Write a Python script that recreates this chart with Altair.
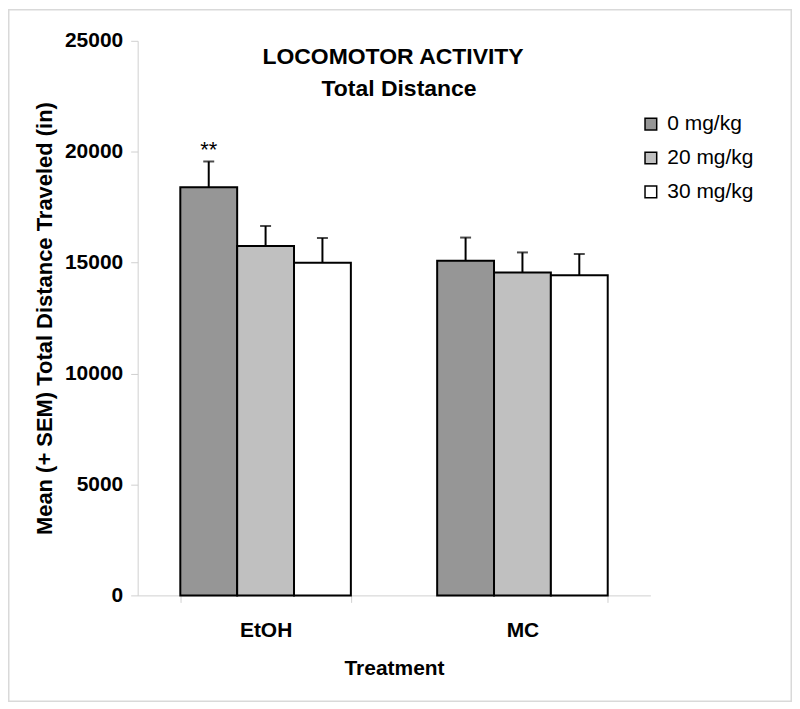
import altair as alt
import pandas as pd

treatments = ["EtOH", "MC"]
doses = ["0 mg/kg", "20 mg/kg", "30 mg/kg"]
means_etoh = [18400, 15750, 15000]
means_mc = [15080, 14560, 14430]
sem_etoh = [1160, 900, 1110]
sem_mc = [1050, 900, 960]
sig_etoh = ["**", "", ""]
sig_mc = ["", "", ""]
colors = ["#969696", "#c0c0c0", "#ffffff"]
y_ticks = [0, 5000, 10000, 15000, 20000, 25000]
title_lines = ["LOCOMOTOR ACTIVITY", "Total Distance"]

rows = []
for t, ms, ss, gs in [("EtOH", means_etoh, sem_etoh, sig_etoh), ("MC", means_mc, sem_mc, sig_mc)]:
    for d, m, s, g in zip(doses, ms, ss, gs):
        rows.append({"treatment": t, "dose": d, "mean": m, "upper": m + s, "sig": g})
df = pd.DataFrame(rows)

FONT = "Liberation Sans"
W, H = 514, 556
PAD = {"left": 130, "top": 32, "right": 142, "bottom": 107}

x_enc = alt.X(
    "treatment:N",
    sort=treatments,
    scale=alt.Scale(paddingInner=0.336, paddingOuter=0.166),
    axis=alt.Axis(
        title="Treatment",
        labelAngle=0,
        tickBand="extent",
        tickSize=7,
        labelBaseline="alphabetic",
        labelPadding=34,
        labelFontSize=21,
        titleFontSize=21,
        titleBaseline="alphabetic",
        titleY=79,
        titleX=W / 2,
    ),
)
xo_enc = alt.XOffset("dose:N", sort=doses, scale=alt.Scale(paddingInner=0, paddingOuter=0))
y_enc = alt.Y(
    "mean:Q",
    scale=alt.Scale(domain=[0, 25000], nice=False),
    axis=alt.Axis(
        title="Mean (+ SEM) Total Distance Traveled (in)",
        values=y_ticks,
        format="d",
        tickSize=7,
        labelPadding=8,
        labelFontSize=21,
        titleFontSize=22,
        titleBaseline="alphabetic",
        titleX=-86,
        titleY=H / 2,
        titleAngle=-90,
    ),
)

base = alt.Chart(df)

bars = base.mark_bar(stroke="black", strokeWidth=2).encode(
    x=x_enc,
    xOffset=xo_enc,
    y=y_enc,
    fill=alt.Fill(
        "dose:N",
        sort=doses,
        scale=alt.Scale(domain=doses, range=colors),
        legend=alt.Legend(
            title=None,
            orient="none",
            legendX=504,
            legendY=73,
            padding=0,
            symbolType="square",
            symbolSize=137,
            symbolStrokeColor="black",
            symbolStrokeWidth=1.5,
            symbolOffset=0,
            labelOffset=6,
            labelFontSize=21,
            labelFont=FONT,
            labelFontWeight="normal",
            labelColor="black",
            rowPadding=12,
        ),
    ),
)

err = base.mark_rule(color="black", strokeWidth=2).encode(
    x=x_enc, xOffset=xo_enc, y="mean:Q", y2="upper:Q"
)
caps = base.mark_tick(color="black", thickness=2, size=11).encode(
    x=x_enc, xOffset=xo_enc, y="upper:Q"
)
stars = base.mark_text(
    baseline="alphabetic", dy=-4, fontSize=22, font=FONT, color="black"
).encode(x=x_enc, xOffset=xo_enc, y="upper:Q", text="sig:N")

one = pd.DataFrame({"a": [0]})
frame = alt.Chart(one).mark_rect(fill=None, stroke="#d9d9d9", strokeWidth=1.5).encode(
    x=alt.value(-PAD["left"] + 0.75),
    x2=alt.value(W + PAD["right"] - 0.75),
    y=alt.value(-PAD["top"] + 0.75),
    y2=alt.value(H + PAD["bottom"] - 0.75),
)
t1 = alt.Chart(pd.DataFrame({"t": [title_lines[0]]})).mark_text(
    fontSize=23, fontWeight="bold", font=FONT, baseline="alphabetic", align="center", color="black"
).encode(x=alt.value(256), y=alt.value(23), text="t:N")
t2 = alt.Chart(pd.DataFrame({"t": [title_lines[1]]})).mark_text(
    fontSize=23, fontWeight="bold", font=FONT, baseline="alphabetic", align="center", color="black"
).encode(x=alt.value(262), y=alt.value(55), text="t:N")

chart = (
    alt.layer(frame, bars, err, caps, stars, t1, t2)
    .properties(width=W, height=H, autosize=alt.AutoSizeParams(type="none"), padding=PAD)
    .configure_view(stroke=None)
    .configure_axis(
        grid=False,
        domainColor="#d0d0d0",
        tickColor="#d0d0d0",
        labelFont=FONT,
        titleFont=FONT,
        labelFontWeight="bold",
        titleFontWeight="bold",
        labelColor="black",
        titleColor="black",
    )
)

chart.save("out.html", embed_options={"renderer": "svg", "actions": False})
